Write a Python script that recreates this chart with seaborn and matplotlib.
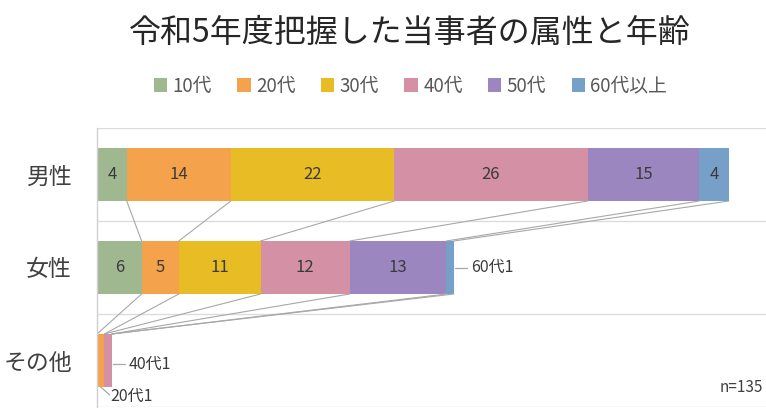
import matplotlib
matplotlib.use('Agg')
import matplotlib.pyplot as plt
from matplotlib.patches import Patch
import seaborn as sns
import pandas as pd

# data
cats = ['男性', '女性', 'その他']
ages = ['10代', '20代', '30代', '40代', '50代', '60代以上']
men = [4, 14, 22, 26, 15, 4]
women = [6, 5, 11, 12, 13, 1]
other = [0, 1, 0, 1, 0, 0]
colors = ['#9fb88f', '#f4a24b', '#e8bc24', '#d490a4', '#9b86c0', '#76a0c8']
title = '令和5年度把握した当事者の属性と年齢'
n_text = 'n=135'

sns.set_theme(style='white')
plt.rcParams['font.family'] = ['Noto Sans CJK JP', 'DejaVu Sans']

df = pd.DataFrame([men, women, other], columns=ages)
df.insert(0, '属性', cats)
cum = df[ages].cumsum(axis=1)
cum.insert(0, '属性', cats)

fig = plt.figure(figsize=(7.66, 4.08), dpi=100)
ax = fig.add_axes([97 / 766, 1 / 408, 669 / 766, 279 / 408])

bar_h = 0.57
# stacked bars: draw cumulative totals from the longest down
for age, col in reversed(list(zip(ages, colors))):
    sns.barplot(data=cum, x=age, y='属性', color=col, orient='h', width=bar_h,
                saturation=1, ax=ax, linewidth=0)

ax.set_xlim(0, 90)
ax.set_ylim(2.5, -0.5)

# series lines between bars
line_c = '#a8a8a8'
for i in range(len(cats) - 1):
    for age in ages:
        x0 = cum.loc[i, age]
        x1 = cum.loc[i + 1, age]
        ax.plot([x0, x1], [i + bar_h / 2, i + 1 - bar_h / 2], color=line_c, lw=0.8, zorder=1)

# data labels
txt_c = '#3a3a3a'
for i in range(len(cats)):
    for age in ages:
        v = df.loc[i, age]
        if v >= 2:
            ax.text(cum.loc[i, age] - v / 2, i, str(v), ha='center', va='center',
                    fontsize=12, color=txt_c)

# small segment callouts
fe_end = cum.loc[1, '60代以上']
ax.plot([fe_end + 0.2, fe_end + 1.8], [1, 1], color=line_c, lw=0.9)
ax.text(fe_end + 2.3, 1, '60代' + str(women[5]), ha='left', va='center', fontsize=11.5, color=txt_c)

ot_end = cum.loc[2, '40代']
ax.plot([ot_end + 0.1, ot_end + 1.8], [2.04, 2.04], color=line_c, lw=0.9)
ax.text(ot_end + 2.3, 2.04, '40代' + str(other[3]), ha='left', va='center', fontsize=11.5, color=txt_c)

ax.plot([0.5, 1.7], [2 + bar_h / 2, 2.37], color=line_c, lw=0.9)
ax.text(1.8, 2.39, '20代' + str(other[1]), ha='left', va='center', fontsize=11.5, color=txt_c,
        clip_on=False)

# category separators
for yy in [-0.5, 0.5, 1.5, 2.5]:
    ax.axhline(yy, color='#dcdcdc', lw=1, zorder=0)

for s in ['top', 'right', 'bottom']:
    ax.spines[s].set_visible(False)
ax.spines['left'].set_color('#d0d0d0')
ax.spines['left'].set_linewidth(1)
ax.set_xticks([])
ax.set_xlabel('')
ax.set_ylabel('')
ax.tick_params(axis='y', length=0, pad=18, labelsize=16.5, labelcolor='#404040')

ax.text(0.995, 0.07, n_text, transform=ax.transAxes, ha='right', va='center',
        fontsize=11, color='#404040')

fig.text(0.535, 1 - 33 / 408, title, ha='center', va='center', fontsize=23, color='#262626')

handles = [Patch(facecolor=c, edgecolor='none') for c in colors]
fig.legend(handles, ages, loc='center', bbox_to_anchor=(0.536, 1 - 86 / 408), ncol=6,
           frameon=False, fontsize=13.5, handlelength=0.7, handleheight=0.7,
           handletextpad=0.3, columnspacing=1.35, labelcolor='#595959')

fig.savefig('out.png', dpi=100, facecolor='white')
